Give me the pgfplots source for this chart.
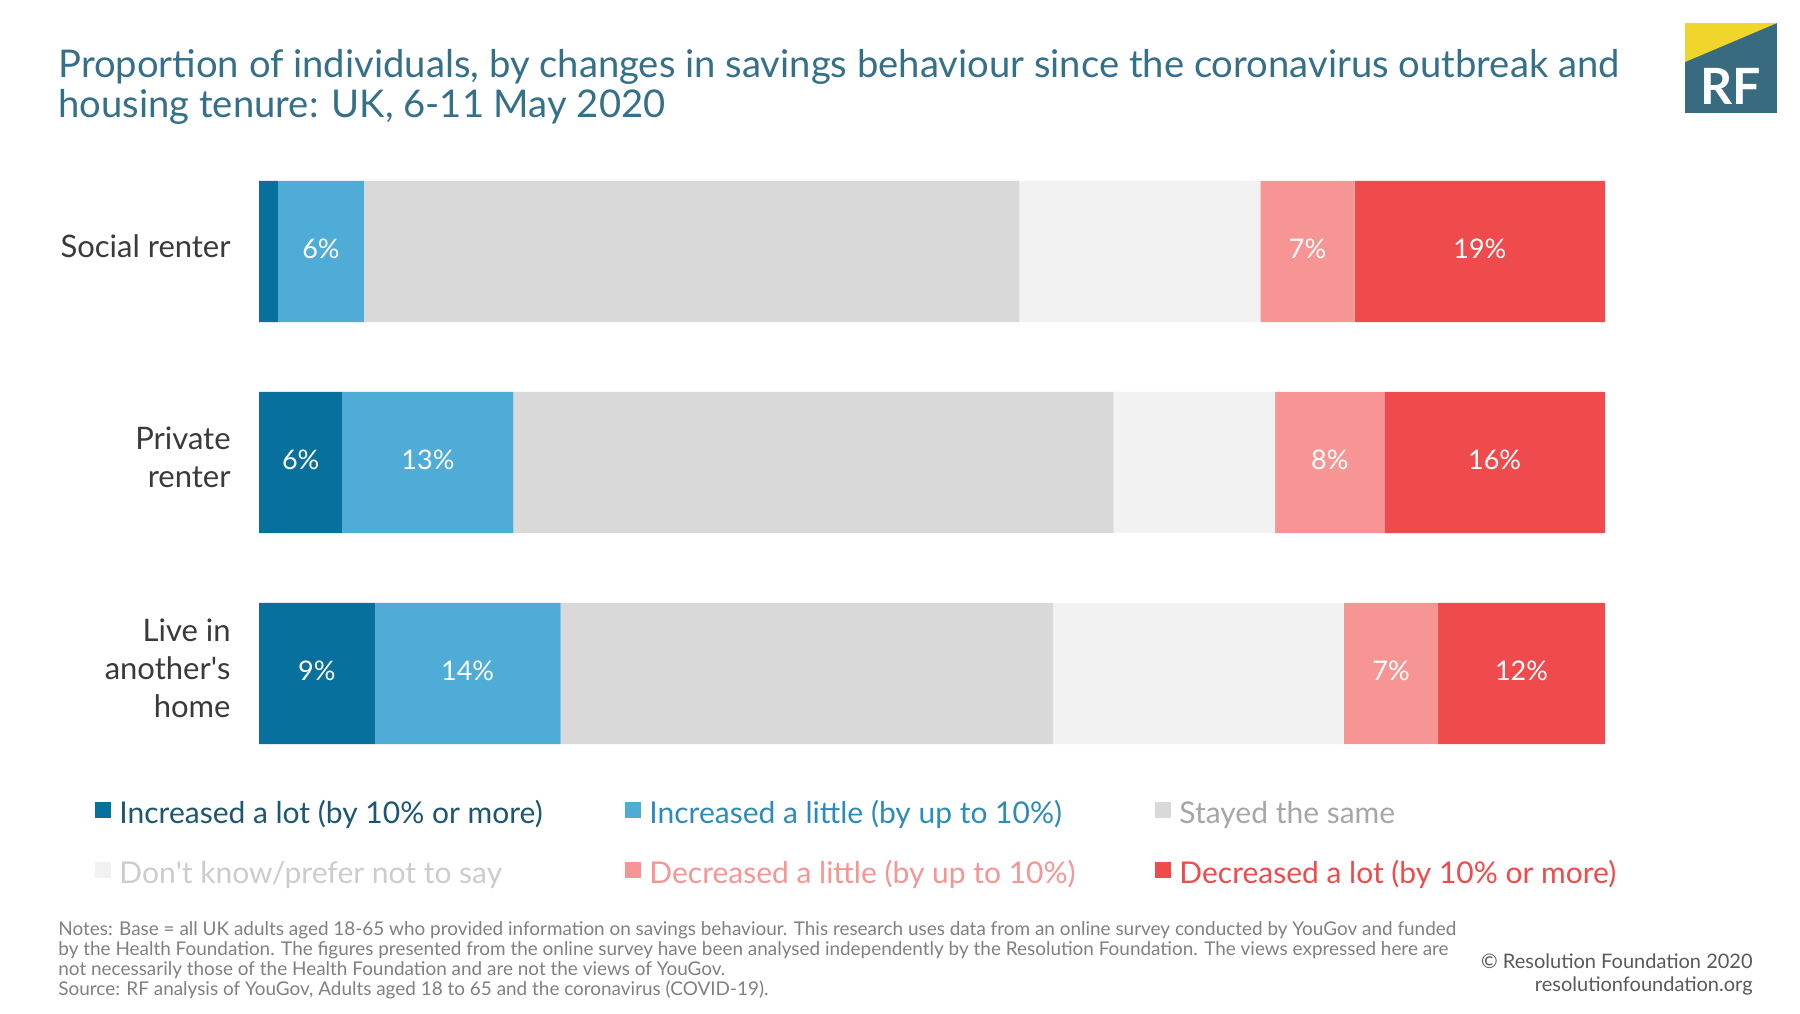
\documentclass[border=0pt]{standalone}
\usepackage{pgfplots}
\pgfplotsset{compat=1.18}
\usepackage{pgfplotstable}
\usepackage{fontspec}
\setmainfont{Lato}
\definecolor{incLot}{HTML}{07709C}
\definecolor{incLittle}{HTML}{4FACD6}
\definecolor{same}{HTML}{D9D9D9}
\definecolor{dk}{HTML}{F2F2F2}
\definecolor{decLittle}{HTML}{F79595}
\definecolor{decLot}{HTML}{EF4B4D}
\definecolor{titleC}{HTML}{35708A}
\definecolor{logoC}{HTML}{386B80}
\definecolor{logoY}{HTML}{F0D52B}
\definecolor{noteC}{HTML}{808080}
\definecolor{catC}{HTML}{3A3A3A}
\definecolor{legA}{HTML}{1D5670}
\definecolor{legB}{HTML}{2C8BBA}

\pgfplotstableread{
y incLot incLittle same dk decLittle decLot
0 1.4 6.4 48.7 17.9 7.0 18.6
1 6.2 12.7 44.6 12.0 8.1 16.4
2 8.6 13.8 36.6 21.6 7.0 12.4
}\datatable

\pgfplotsset{
  sqleg/.style={legend image code/.code={\fill[##1,draw=none] (0pt,-1.5pt) rectangle (8pt,6.5pt);}},
  labelled/.style={
    visualization depends on={rawx \as \rawx},
    nodes near coords={\pgfmathsetmacro\v{\rawx}\ifdim\v pt<3pt\relax\else\pgfmathprintnumber[fixed,precision=0,assume math mode=true]{\v}\%\fi},
    every node near coord/.append style={anchor=center, yshift=1.2pt, text=white, font=\fontsize{13.5}{16}\selectfont, inner sep=0pt},
  },
}

\begin{document}
\begin{tikzpicture}
\path[use as bounding box, fill=white] (0pt,0pt) rectangle (900pt,-506.5pt);
% title
\node[anchor=base west, text=titleC, font=\fontsize{19.1}{21}\selectfont, inner sep=0pt] at (29pt,-38.5pt) {Proportion of individuals, by changes in savings behaviour since the coronavirus outbreak and};
\node[anchor=base west, text=titleC, font=\fontsize{19.1}{21}\selectfont, inner sep=0pt] at (29pt,-58.5pt) {housing tenure: UK, 6-11 May 2020};
% logo
\fill[logoC] (842.5pt,-11.5pt) rectangle (888.5pt,-56.5pt);
\fill[logoY] (842.5pt,-11.5pt) -- (888.5pt,-11.5pt) -- (842.5pt,-31pt) -- cycle;
\node[text=white, font=\fontsize{25}{25}\selectfont\bfseries, inner sep=0pt, anchor=base] at (865.5pt,-52pt) {RF};

\begin{axis}[
  at={(129.5pt,-73pt)}, anchor=north west,
  scale only axis, width=673pt, height=316.5pt,
  xbar stacked, bar width=0.67,
  xmin=0, xmax=100, ymin=-0.5, ymax=2.5, y dir=reverse,
  axis line style={draw=none},
  xtick=\empty, ytick={0,1,2},
  yticklabels={Social renter, {Private\\renter}, {Live in\\another\textquotesingle s\\home}},
  major tick length=0pt,
  yticklabel style={align=right, font=\fontsize{15.5}{18.8}\selectfont, text=catC, inner xsep=0pt, xshift=-14pt, yshift=2.6pt},
  clip=false,
  legend columns=3,
  legend style={at={(axis description cs:-0.1218,-0.0348)}, anchor=north west, draw=none, fill=none, inner sep=0pt,
    /tikz/row sep=15.85pt, /tikz/column sep=4pt,
    nodes={inner sep=0pt, text height=11pt, text depth=3pt, font=\fontsize{15}{17}\selectfont}},
]
\addplot[fill=incLot, draw=none, sqleg, labelled] table[x=incLot, y=y] \datatable;
\addlegendentry{\makebox[249pt][l]{\textcolor{legA}{Increased a lot (by 10\% or more)}}}
\addplot[fill=incLittle, draw=none, sqleg, labelled] table[x=incLittle, y=y] \datatable;
\addlegendentry{\makebox[249pt][l]{\textcolor{legB}{Increased a little (by up to 10\%)}}}
\addplot[fill=same, draw=none, sqleg] table[x=same, y=y] \datatable;
\addlegendentry{\makebox[249pt][l]{\textcolor{black!35}{Stayed the same}}}
\addplot[fill=dk, draw=none, sqleg] table[x=dk, y=y] \datatable;
\addlegendentry{\makebox[249pt][l]{\textcolor{black!20}{Don\textquotesingle t know/prefer not to say}}}
\addplot[fill=decLittle, draw=none, sqleg, labelled] table[x=decLittle, y=y] \datatable;
\addlegendentry{\makebox[249pt][l]{\textcolor{decLittle}{Decreased a little (by up to 10\%)}}}
\addplot[fill=decLot, draw=none, sqleg, labelled] table[x=decLot, y=y] \datatable;
\addlegendentry{\makebox[249pt][l]{\textcolor{decLot}{Decreased a lot (by 10\% or more)}}}
\end{axis}

% notes
\begin{scope}[every node/.style={anchor=base west, inner sep=0pt, text=noteC, font=\fontsize{9.46}{10}\selectfont}]
\node at (29pt,-467.5pt) {Notes: Base = all UK adults aged 18-65 who provided information on savings behaviour. This research uses data from an online survey conducted by YouGov and funded};
\node at (29pt,-477.5pt) {by the Health Foundation. The figures presented from the online survey have been analysed independently by the Resolution Foundation. The views expressed here are};
\node at (29pt,-487.5pt) {not necessarily those of the Health Foundation and are not the views of YouGov.};
\node at (29pt,-497.5pt) {Source: RF analysis of YouGov, Adults aged 18 to 65 and the coronavirus (COVID-19).};
\end{scope}
\begin{scope}[every node/.style={anchor=base east, inner sep=0pt, text=black!65, font=\fontsize{10}{12}\selectfont}]
\node at (876.5pt,-484.2pt) {© Resolution Foundation 2020};
\node at (876.5pt,-495.7pt) {resolutionfoundation.org};
\end{scope}
\end{tikzpicture}
\end{document}
